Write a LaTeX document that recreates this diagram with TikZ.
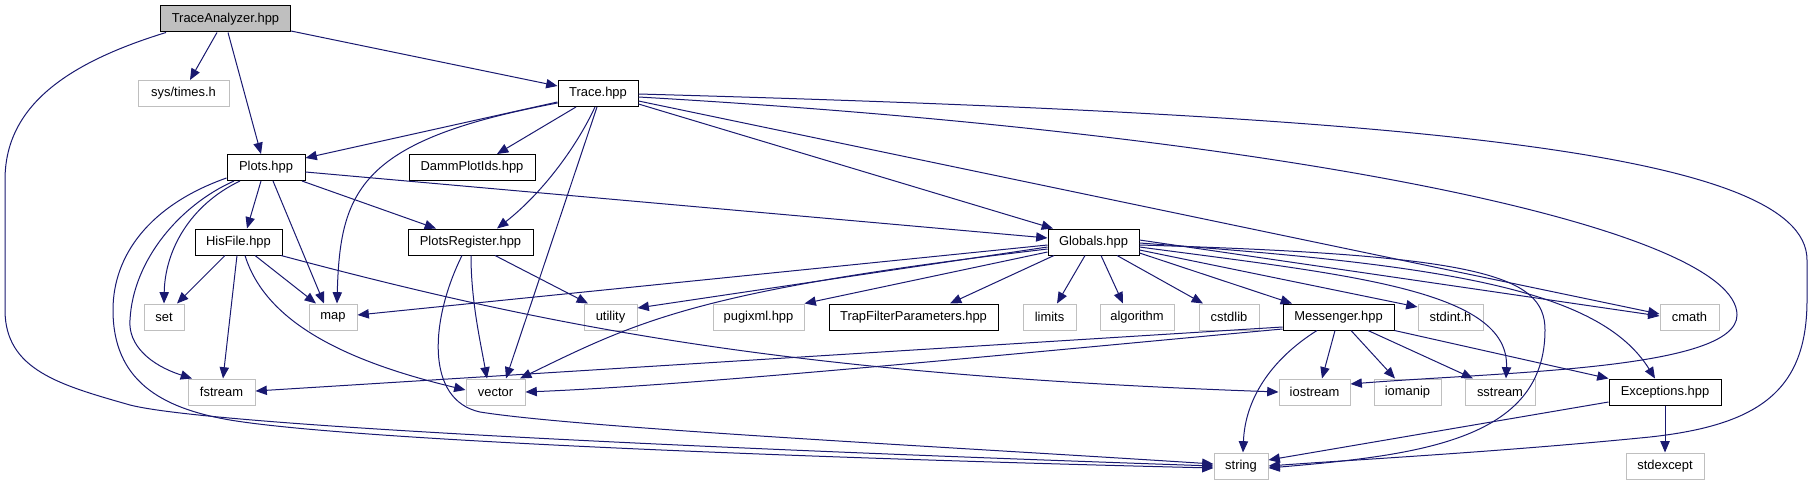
\documentclass[tikz,border=0pt]{standalone}
\usepackage{fontspec}
\setmainfont{Liberation Sans}
\usetikzlibrary{arrows.meta}
\definecolor{edgecol}{HTML}{191970}
\definecolor{sysgray}{HTML}{BFBFBF}
\begin{document}
\begin{tikzpicture}[x=0.75pt,y=-0.75pt,
  box/.style={draw, line width=0.75pt, minimum height=19.5pt, inner sep=0pt, fill=white, font=\fontsize{9.7}{11}\selectfont},
  sysbox/.style={box, draw=sysgray},
  projbox/.style={box, draw=black},
  rootbox/.style={box, draw=black, fill=sysgray},
  bw/.style={minimum width=#1*0.75pt},
  dep/.style={draw=edgecol, line width=0.75pt, -{Triangle[length=8.5pt,width=7pt]}}]
\useasboundingbox (0,0) rectangle (1812,485);
% nodes
\node[rootbox,bw=130] (ta) at (225.5,19) {TraceAnalyzer.hpp};
\node[sysbox,bw=91] (sys) at (183.5,93.5) {sys/times.h};
\node[projbox,bw=80] (tr) at (598,93.5) {Trace.hpp};
\node[projbox,bw=78] (pl) at (266,167.5) {Plots.hpp};
\node[projbox,bw=126] (dp) at (472,167.5) {DammPlotIds.hpp};
\node[projbox,bw=87] (hf) at (238.5,242) {HisFile.hpp};
\node[projbox,bw=125] (pr) at (470.5,242) {PlotsRegister.hpp};
\node[projbox,bw=91] (gl) at (1093.5,242) {Globals.hpp};
\node[sysbox,bw=40] (set) at (164,317) {set};
\node[sysbox,bw=48] (map) at (333,317) {map};
\node[sysbox,bw=53] (ut) at (610.5,317) {utility};
\node[sysbox,bw=91] (pug) at (758.5,317) {pugixml.hpp};
\node[projbox,bw=169] (trap) at (913.5,317) {TrapFilterParameters.hpp};
\node[sysbox,bw=53] (lim) at (1049.5,317) {limits};
\node[sysbox,bw=74] (alg) at (1137,317) {algorithm};
\node[sysbox,bw=60] (cst) at (1229,317) {cstdlib};
\node[projbox,bw=111] (msg) at (1338.5,317) {Messenger.hpp};
\node[sysbox,bw=65] (sdi) at (1450.5,317) {stdint.h};
\node[sysbox,bw=59] (cm) at (1689.5,317) {cmath};
\node[sysbox,bw=67] (fs) at (221.5,392) {fstream};
\node[sysbox,bw=59] (vec) at (495.5,392) {vector};
\node[sysbox,bw=71] (io) at (1314.5,392) {iostream};
\node[sysbox,bw=67] (iom) at (1407.5,392) {iomanip};
\node[sysbox,bw=70] (ss) at (1500,392) {sstream};
\node[projbox,bw=112] (ex) at (1665,392) {Exceptions.hpp};
\node[sysbox,bw=54] (st) at (1241,466) {string};
\node[sysbox,bw=78] (sdx) at (1665,466) {stdexcept};
% TraceAnalyzer
\draw[dep] (ta.south -| 217,0) -- (sys.north -| 190,0);
\draw[dep] (ta.south -| 228,0) -- (pl.north -| 261,0);
\draw[dep] (ta.east |- 0,31) -- (tr.west |- 0,86);
\draw[dep] (ta.south -| 166,0) .. controls (60,65) and (5,110) .. (5,180) -- (5,310) .. controls (5,370) and (60,385) .. (130,405) .. controls (200,423) and (600,445) .. (st.west |- 0,466);
% Trace
\draw[dep] (tr.west |- 0,102) -- (pl.east |- 0,158);
\draw[dep] (tr.south -| 576,0) -- (dp.north -| 497,0);
\draw[dep] (tr.south -| 595,0) .. controls (575,150) and (540,195) .. (pr.north -| 497,0);
\draw[dep] (tr.west |- 0,103) .. controls (360,140) and (340,190) .. (map.north -| 337,0);
\draw[dep] (tr.south -| 597,0) -- (vec.north -| 506,0);
\draw[dep] (tr.east |- 0,104) -- (gl.north -| 1053,0);
\draw[dep] (tr.east |- 0,101) -- (cm.west |- 0,314);
\draw[dep] (tr.east |- 0,94) .. controls (1400,115) and (1807,150) .. (1807,260) -- (1807,300) .. controls (1807,390) and (1760,425) .. (1650,437) .. controls (1500,452) and (1350,460) .. (st.east |- 0,466);
\draw[dep] (tr.east |- 0,97) .. controls (1300,135) and (1737,230) .. (1737,315) .. controls (1737,370) and (1500,372) .. (io.east |- 0,384);
% Plots
\draw[dep] (pl.south -| 261,0) -- (hf.north -| 247,0);
\draw[dep] (pl.south -| 273,0) -- (map.north -| 324,0);
\draw[dep] (pl.south -| 302,0) -- (pr.north -| 436,0);
\draw[dep] (pl.east |- 0,172) -- (gl.west |- 0,238);
\draw[dep] (pl.south -| 240,0) .. controls (190,205) and (165,250) .. (set.north);
\draw[dep] (pl.south -| 234,0) .. controls (180,205) and (133,260) .. (130,320) .. controls (128,345) and (150,365) .. (fs.north -| 192,0);
\draw[dep] (pl.west |- 0,178) .. controls (150,205) and (113,255) .. (113,310) .. controls (113,380) and (160,408) .. (230,420) .. controls (350,440) and (800,458) .. (st.west |- 0,468);
% HisFile
\draw[dep] (hf.south -| 225,0) -- (set.north -| 177,0);
\draw[dep] (hf.south -| 237,0) -- (fs.north -| 223,0);
\draw[dep] (hf.south -| 255,0) -- (map.north -| 316,0);
\draw[dep] (hf.south -| 245,0) .. controls (265,320) and (340,360) .. (vec.west |- 0,390);
\draw[dep] (hf.south -| 281,0) .. controls (560,330) and (800,375) .. (io.west |- 0,392);
% PlotsRegister
\draw[dep] (pr.south -| 462,0) .. controls (430,320) and (425,400) .. (480,412) .. controls (580,428) and (950,447) .. (st.west |- 0,464);
\draw[dep] (pr.south -| 471,0) .. controls (471,300) and (480,340) .. (vec.north -| 487,0);
\draw[dep] (pr.south -| 495,0) -- (ut.north -| 588,0);
% Globals
\draw[dep] (gl.west |- 0,245) -- (map.east |- 0,315);
\draw[dep] (gl.west |- 0,247) -- (ut.east |- 0,308);
\draw[dep] (gl.west |- 0,249) .. controls (700,290) and (640,320) .. (vec.north -| 520,0);
\draw[dep] (gl.west |- 0,252) -- (pug.north east);
\draw[dep] (gl.south -| 1054,0) -- (trap.north -| 950,0);
\draw[dep] (gl.south -| 1085,0) -- (lim.north -| 1057,0);
\draw[dep] (gl.south -| 1101,0) -- (alg.north -| 1123,0);
\draw[dep] (gl.south -| 1117,0) -- (cst.north -| 1203,0);
\draw[dep] (gl.east |- 0,253) -- (msg.north -| 1292,0);
\draw[dep] (gl.east |- 0,250) -- (sdi.west |- 0,307);
\draw[dep] (gl.east |- 0,247) .. controls (1350,275) and (1510,290) .. (ss.north -| 1506,0);
\draw[dep] (gl.east |- 0,245) .. controls (1480,255) and (1545,275) .. (1545,330) .. controls (1545,440) and (1420,455) .. (st.east |- 0,468);
\draw[dep] (gl.east |- 0,240) -- (cm.west |- 0,316);
\draw[dep] (gl.east |- 0,243) .. controls (1450,265) and (1600,290) .. (ex.north -| 1655,0);
% Messenger
\draw[dep] (msg.west |- 0,327) -- (fs.east |- 0,391);
\draw[dep] (msg.west |- 0,329) .. controls (1000,355) and (700,385) .. (vec.east |- 0,392);
\draw[dep] (msg.south -| 1335,0) -- (io.north -| 1322,0);
\draw[dep] (msg.south -| 1351,0) -- (iom.north -| 1395,0);
\draw[dep] (msg.south -| 1368,0) -- (ss.north -| 1473,0);
\draw[dep] (msg.south -| 1317,0) .. controls (1270,360) and (1245,400) .. (st.north -| 1243,0);
\draw[dep] (msg.south east) -- (ex.north west);
% Exceptions
\draw[dep] (ex.west |- 0,402) -- (st.east |- 0,460);
\draw[dep] (ex.south) -- (sdx.north);
\end{tikzpicture}
\end{document}
